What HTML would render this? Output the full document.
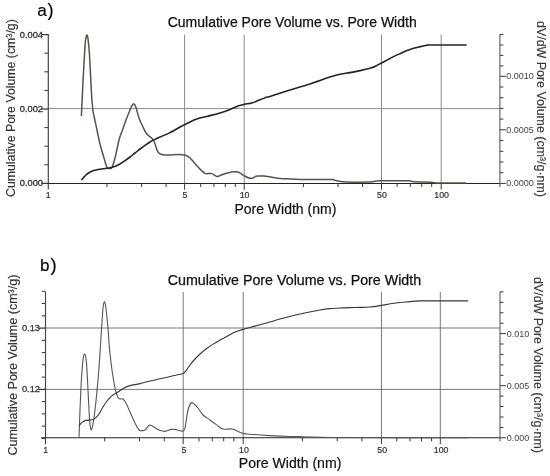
<!DOCTYPE html>
<html><head><meta charset="utf-8"><title>Cumulative Pore Volume vs. Pore Width</title>
<style>
html,body{margin:0;padding:0;background:#fff;}
body{width:550px;height:476px;overflow:hidden;font-family:"Liberation Sans",sans-serif;}
svg{display:block;will-change:transform;opacity:0.999;}
svg text{font-family:"Liberation Sans",sans-serif;}
</style></head><body>
<svg width="550" height="476" viewBox="0 0 550 476">
<rect width="550" height="476" fill="#ffffff"/>
<!-- chart a -->
<text x="37.2" y="16" font-size="17.2" fill="#000" stroke="#000" stroke-width="0.15">a</text><text x="47.6" y="16.1" font-size="18.3" fill="#000" stroke="#000" stroke-width="0.15">)</text>
<text x="167.7" y="26.7" font-size="14" fill="#111" stroke="#111" stroke-width="0.25">Cumulative Pore Volume vs. Pore Width</text>
<text x="234.4" y="214" font-size="14" fill="#111" stroke="#111" stroke-width="0.2">Pore Width (nm)</text>
<text transform="translate(15.0,197.0) rotate(-90)" font-size="12" fill="#333" stroke="#333" stroke-width="0.15" textLength="177.8" lengthAdjust="spacingAndGlyphs">Cumulative Pore Volume (cm³/g)</text>
<text transform="translate(537,21) rotate(90)" font-size="12" fill="#3a3a3a" stroke="#3a3a3a" stroke-width="0.15" textLength="176" lengthAdjust="spacingAndGlyphs">dV/dW Pore Volume (cm³/g·nm)</text>
<line x1="184.60" y1="34.6" x2="184.60" y2="183.4" stroke="#7c7c7c" stroke-width="0.9"/>
<line x1="244.20" y1="34.6" x2="244.20" y2="183.4" stroke="#7c7c7c" stroke-width="0.9"/>
<line x1="381.50" y1="34.6" x2="381.50" y2="183.4" stroke="#7c7c7c" stroke-width="0.9"/>
<line x1="441.20" y1="34.6" x2="441.20" y2="183.4" stroke="#7c7c7c" stroke-width="0.9"/>
<line x1="48.3" y1="108.6" x2="499.9" y2="108.6" stroke="#8c8c8c" stroke-width="1"/>
<line x1="48.3" y1="34.1" x2="48.3" y2="189.4" stroke="#4a4644" stroke-width="1.2"/>
<line x1="42.3" y1="183.4" x2="499.9" y2="183.4" stroke="#262322" stroke-width="1.05"/>
<line x1="499.9" y1="34.1" x2="499.9" y2="186.9" stroke="#625d5a" stroke-width="1.1"/>
<line x1="41.3" y1="183.4" x2="48.3" y2="183.4" stroke="#3a3634" stroke-width="1.25"/>
<line x1="44.3" y1="164.8" x2="48.3" y2="164.8" stroke="#3a3634" stroke-width="1"/>
<line x1="44.3" y1="146.2" x2="48.3" y2="146.2" stroke="#3a3634" stroke-width="1"/>
<line x1="44.3" y1="127.6" x2="48.3" y2="127.6" stroke="#3a3634" stroke-width="1"/>
<line x1="41.3" y1="109.0" x2="48.3" y2="109.0" stroke="#3a3634" stroke-width="1.25"/>
<line x1="44.3" y1="90.4" x2="48.3" y2="90.4" stroke="#3a3634" stroke-width="1"/>
<line x1="44.3" y1="71.8" x2="48.3" y2="71.8" stroke="#3a3634" stroke-width="1"/>
<line x1="44.3" y1="53.2" x2="48.3" y2="53.2" stroke="#3a3634" stroke-width="1"/>
<line x1="41.3" y1="34.6" x2="48.3" y2="34.6" stroke="#3a3634" stroke-width="1.25"/>
<line x1="499.9" y1="183.4" x2="505.9" y2="183.4" stroke="#3a3634" stroke-width="1"/>
<line x1="499.9" y1="172.7" x2="503.4" y2="172.7" stroke="#3a3634" stroke-width="1"/>
<line x1="499.9" y1="162.0" x2="503.4" y2="162.0" stroke="#3a3634" stroke-width="1"/>
<line x1="499.9" y1="151.3" x2="503.4" y2="151.3" stroke="#3a3634" stroke-width="1"/>
<line x1="499.9" y1="140.6" x2="503.4" y2="140.6" stroke="#3a3634" stroke-width="1"/>
<line x1="499.9" y1="129.8" x2="505.9" y2="129.8" stroke="#3a3634" stroke-width="1"/>
<line x1="499.9" y1="119.1" x2="503.4" y2="119.1" stroke="#3a3634" stroke-width="1"/>
<line x1="499.9" y1="108.4" x2="503.4" y2="108.4" stroke="#3a3634" stroke-width="1"/>
<line x1="499.9" y1="97.7" x2="503.4" y2="97.7" stroke="#3a3634" stroke-width="1"/>
<line x1="499.9" y1="87.0" x2="503.4" y2="87.0" stroke="#3a3634" stroke-width="1"/>
<line x1="499.9" y1="76.3" x2="505.9" y2="76.3" stroke="#3a3634" stroke-width="1"/>
<line x1="499.9" y1="65.9" x2="503.4" y2="65.9" stroke="#3a3634" stroke-width="1"/>
<line x1="499.9" y1="55.4" x2="503.4" y2="55.4" stroke="#3a3634" stroke-width="1"/>
<line x1="499.9" y1="45.0" x2="503.4" y2="45.0" stroke="#3a3634" stroke-width="1"/>
<line x1="499.9" y1="34.6" x2="503.4" y2="34.6" stroke="#3a3634" stroke-width="1"/>
<line x1="107.0" y1="183.4" x2="107.0" y2="187.0" stroke="#3a3634" stroke-width="1"/>
<line x1="141.6" y1="183.4" x2="141.6" y2="187.0" stroke="#3a3634" stroke-width="1"/>
<line x1="166.1" y1="183.4" x2="166.1" y2="187.0" stroke="#3a3634" stroke-width="1"/>
<line x1="184.6" y1="183.4" x2="184.6" y2="189.70000000000002" stroke="#3a3634" stroke-width="1"/>
<line x1="200.7" y1="183.4" x2="200.7" y2="187.0" stroke="#3a3634" stroke-width="1"/>
<line x1="213.9" y1="183.4" x2="213.9" y2="187.0" stroke="#3a3634" stroke-width="1"/>
<line x1="225.3" y1="183.4" x2="225.3" y2="187.0" stroke="#3a3634" stroke-width="1"/>
<line x1="235.3" y1="183.4" x2="235.3" y2="187.0" stroke="#3a3634" stroke-width="1"/>
<line x1="303.4" y1="183.4" x2="303.4" y2="187.0" stroke="#3a3634" stroke-width="1"/>
<line x1="338.0" y1="183.4" x2="338.0" y2="187.0" stroke="#3a3634" stroke-width="1"/>
<line x1="362.5" y1="183.4" x2="362.5" y2="187.0" stroke="#3a3634" stroke-width="1"/>
<line x1="381.5" y1="183.4" x2="381.5" y2="189.70000000000002" stroke="#3a3634" stroke-width="1"/>
<line x1="397.1" y1="183.4" x2="397.1" y2="187.0" stroke="#3a3634" stroke-width="1"/>
<line x1="410.3" y1="183.4" x2="410.3" y2="187.0" stroke="#3a3634" stroke-width="1"/>
<line x1="421.7" y1="183.4" x2="421.7" y2="187.0" stroke="#3a3634" stroke-width="1"/>
<line x1="431.7" y1="183.4" x2="431.7" y2="187.0" stroke="#3a3634" stroke-width="1"/>
<line x1="244.2" y1="183.4" x2="244.2" y2="189.70000000000002" stroke="#3a3634" stroke-width="1"/>
<line x1="441.2" y1="183.4" x2="441.2" y2="189.70000000000002" stroke="#3a3634" stroke-width="1"/>
<text x="48.1" y="198" font-size="8.8" text-anchor="middle" fill="#303030" stroke="#303030" stroke-width="0.2">1</text>
<text x="185.0" y="198" font-size="8.8" text-anchor="middle" fill="#303030" stroke="#303030" stroke-width="0.2">5</text>
<text x="244.6" y="198" font-size="8.8" text-anchor="middle" fill="#303030" stroke="#303030" stroke-width="0.2">10</text>
<text x="381.9" y="198" font-size="8.8" text-anchor="middle" fill="#303030" stroke="#303030" stroke-width="0.2">50</text>
<text x="441.6" y="198" font-size="8.8" text-anchor="middle" fill="#303030" stroke="#303030" stroke-width="0.2">100</text>
<text x="43.0" y="37.7" font-size="9.3" text-anchor="end" fill="#303030" stroke="#303030" stroke-width="0.3">0.004</text>
<text x="43.0" y="111.7" font-size="9.3" text-anchor="end" fill="#303030" stroke="#303030" stroke-width="0.3">0.002</text>
<text x="43.0" y="186.1" font-size="9.3" text-anchor="end" fill="#303030" stroke="#303030" stroke-width="0.3">0.000</text>
<text x="506.2" y="79.4" font-size="9" fill="#454545">0.0010</text>
<text x="506.2" y="133.0" font-size="9" fill="#454545">0.0005</text>
<text x="506.2" y="186.3" font-size="9" fill="#454545">0.0000</text>
<path d="M81.4,116.0C81.7,110.3 82.4,93.7 83.0,82.0C83.6,70.3 84.5,53.3 85.0,46.0C85.5,38.7 85.6,40.0 85.9,38.2C86.2,36.4 86.6,35.0 86.9,35.0C87.2,35.0 87.5,34.9 87.9,38.2C88.3,41.5 88.9,45.5 89.5,55.0C90.1,64.5 91.0,85.7 91.6,95.0C92.2,104.3 92.6,107.5 93.0,111.0C93.4,114.5 93.3,112.8 94.0,116.0C94.7,119.2 96.0,125.3 97.0,130.0C98.0,134.7 98.8,139.3 100.0,144.0C101.2,148.7 102.8,154.1 104.0,158.0C105.2,161.9 106.1,165.8 107.0,167.5C107.9,169.2 108.7,168.5 109.5,168.5C110.3,168.5 111.1,169.2 112.0,167.5C112.9,165.8 113.8,162.6 115.0,158.0C116.2,153.4 117.8,144.7 119.0,140.0C120.2,135.3 121.3,133.3 122.5,130.0C123.7,126.7 124.8,123.1 126.0,120.0C127.2,116.9 128.5,113.7 129.5,111.3C130.5,108.9 131.2,106.8 132.0,105.6C132.8,104.4 133.3,103.6 134.0,103.9C134.7,104.2 135.2,105.2 136.0,107.5C136.8,109.8 137.9,114.9 139.0,118.0C140.1,121.1 141.3,123.5 142.5,126.0C143.7,128.5 144.9,131.3 146.0,133.0C147.1,134.7 148.2,135.2 149.0,136.0C149.8,136.8 150.2,136.7 151.0,137.5C151.8,138.3 153.0,138.9 154.0,141.0C155.0,143.1 156.2,148.0 157.0,150.0C157.8,152.0 158.3,152.3 159.0,153.0C159.7,153.7 160.0,154.0 161.0,154.3C162.0,154.6 163.5,154.9 165.0,155.0C166.5,155.1 167.8,155.1 170.0,155.0C172.2,154.9 175.5,154.4 178.0,154.4C180.5,154.4 183.0,154.4 185.0,155.0C187.0,155.6 188.5,156.8 190.0,158.0C191.5,159.2 192.7,161.0 194.0,162.5C195.3,164.0 196.7,165.6 198.0,167.0C199.3,168.4 200.8,169.9 202.0,171.0C203.2,172.1 204.0,173.0 205.0,173.4C206.0,173.8 206.8,173.6 208.0,173.6C209.2,173.6 210.5,173.1 212.0,173.6C213.5,174.1 215.7,176.1 217.0,176.4C218.3,176.7 218.8,176.0 220.0,175.6C221.2,175.2 222.0,174.6 224.0,174.0C226.0,173.4 229.7,172.3 232.0,172.0C234.3,171.7 236.5,171.7 238.0,172.0C239.5,172.3 240.0,173.0 241.0,173.6C242.0,174.2 242.7,174.9 244.0,175.6C245.3,176.3 247.5,177.6 249.0,178.0C250.5,178.4 251.8,178.3 253.0,178.0C254.2,177.7 255.0,176.5 256.0,176.2C257.0,175.9 257.7,176.0 259.0,176.0C260.3,176.0 261.8,175.8 264.0,176.0C266.2,176.2 269.3,176.8 272.0,177.2C274.7,177.6 277.0,178.1 280.0,178.4C283.0,178.7 286.7,178.8 290.0,179.0C293.3,179.2 293.3,179.3 300.0,179.4C306.7,179.5 324.3,179.3 330.0,179.4C335.7,179.5 332.7,179.7 334.0,180.0C335.3,180.3 336.0,180.7 338.0,181.0C340.0,181.3 340.7,181.8 346.0,182.0C351.3,182.2 365.2,182.1 370.0,182.0C374.8,181.9 373.3,181.5 375.0,181.3C376.7,181.1 374.5,180.9 380.0,180.8C385.5,180.7 402.7,180.7 408.0,180.8C413.3,180.9 410.0,181.4 412.0,181.6C414.0,181.8 416.7,181.9 420.0,182.0C423.3,182.1 429.2,182.1 432.0,182.3C434.8,182.5 431.3,182.9 437.0,183.0C442.7,183.1 461.2,183.0 466.0,183.0" fill="none" stroke="#5b514a" stroke-width="1.5" stroke-linejoin="round"/>
<path d="M81.4,180.0C81.8,179.6 82.7,178.4 83.5,177.6C84.3,176.8 85.1,175.8 86.0,175.0C86.9,174.2 88.0,173.4 89.0,172.8C90.0,172.2 90.8,171.7 92.0,171.2C93.2,170.7 94.7,170.3 96.0,170.0C97.3,169.7 98.2,169.5 100.0,169.2C101.8,168.9 105.3,168.4 107.0,168.2C108.7,168.0 109.0,168.0 110.0,167.8C111.0,167.6 112.0,167.3 113.0,167.0C114.0,166.7 114.8,166.5 116.0,166.0C117.2,165.5 118.5,164.9 120.0,164.0C121.5,163.1 123.3,161.9 125.0,160.7C126.7,159.5 128.3,158.3 130.0,157.0C131.7,155.7 133.3,154.3 135.0,153.0C136.7,151.7 138.3,150.3 140.0,149.0C141.7,147.7 143.3,146.5 145.0,145.3C146.7,144.1 148.3,143.0 150.0,142.0C151.7,141.0 153.3,140.2 155.0,139.4C156.7,138.6 157.5,138.1 160.0,137.0C162.5,135.9 166.7,134.3 170.0,132.6C173.3,130.9 177.7,128.3 180.0,127.0C182.3,125.7 182.3,125.8 184.0,125.0C185.7,124.2 188.0,123.0 190.0,122.0C192.0,121.0 193.8,120.1 196.0,119.3C198.2,118.5 200.7,117.8 203.0,117.2C205.3,116.6 207.2,116.3 210.0,115.6C212.8,114.9 216.7,114.0 220.0,113.0C223.3,112.0 227.0,110.6 230.0,109.4C233.0,108.2 235.7,106.8 238.0,106.0C240.3,105.2 241.7,104.9 244.0,104.4C246.3,103.9 249.7,103.6 252.0,103.0C254.3,102.4 256.0,101.4 258.0,100.6C260.0,99.8 262.0,98.9 264.0,98.2C266.0,97.5 267.3,97.2 270.0,96.4C272.7,95.6 276.7,94.3 280.0,93.2C283.3,92.1 286.7,91.0 290.0,90.0C293.3,89.0 296.7,88.0 300.0,87.0C303.3,86.0 306.7,85.1 310.0,84.0C313.3,82.9 317.0,81.7 320.0,80.6C323.0,79.5 325.3,78.5 328.0,77.6C330.7,76.7 333.5,75.8 336.0,75.2C338.5,74.6 340.7,74.1 343.0,73.7C345.3,73.3 347.2,73.1 350.0,72.6C352.8,72.1 356.7,71.3 360.0,70.6C363.3,69.9 367.3,69.0 370.0,68.2C372.7,67.4 374.1,66.9 376.0,66.0C377.9,65.1 379.4,64.1 381.4,63.0C383.4,61.9 385.9,60.7 388.0,59.6C390.1,58.5 391.8,57.5 394.0,56.4C396.2,55.3 398.8,54.2 401.0,53.2C403.2,52.2 405.2,51.1 407.0,50.4C408.8,49.7 410.0,49.3 411.5,48.9C413.0,48.5 414.3,48.1 416.0,47.7C417.7,47.3 419.7,46.8 421.5,46.4C423.3,46.0 425.4,45.4 427.0,45.2C428.6,45.0 424.4,45.0 431.0,45.0C437.6,45.0 460.7,45.0 466.6,45.0" fill="none" stroke="#262321" stroke-width="1.6" stroke-linejoin="round"/>
<!-- chart b -->
<text x="39.9" y="270.8" font-size="17.1" fill="#000" stroke="#000" stroke-width="0.15">b</text><text x="50.5" y="270.9" font-size="18.6" fill="#000" stroke="#000" stroke-width="0.15">)</text>
<text x="167.7" y="284.7" font-size="14.25" fill="#111" stroke="#111" stroke-width="0.25">Cumulative Pore Volume vs. Pore Width</text>
<text x="238.8" y="468.3" font-size="14.1" fill="#111" stroke="#111" stroke-width="0.2">Pore Width (nm)</text>
<text transform="translate(17.1,455.6) rotate(-90)" font-size="12.4" fill="#333" stroke="#333" stroke-width="0.15" textLength="181" lengthAdjust="spacingAndGlyphs">Cumulative Pore Volume (cm³/g)</text>
<text transform="translate(534,277) rotate(90)" font-size="12" fill="#3a3a3a" stroke="#3a3a3a" stroke-width="0.15" textLength="176" lengthAdjust="spacingAndGlyphs">dV/dW Pore Volume (cm³/g·nm)</text>
<line x1="183.20" y1="292.0" x2="183.20" y2="437.8" stroke="#686868" stroke-width="0.9"/>
<line x1="243.20" y1="292.0" x2="243.20" y2="437.8" stroke="#686868" stroke-width="0.9"/>
<line x1="381.45" y1="292.0" x2="381.45" y2="437.8" stroke="#686868" stroke-width="0.9"/>
<line x1="440.30" y1="292.0" x2="440.30" y2="437.8" stroke="#686868" stroke-width="0.9"/>
<line x1="45.5" y1="328.0" x2="500.0" y2="328.0" stroke="#686868" stroke-width="0.9"/>
<line x1="45.5" y1="389.4" x2="500.0" y2="389.4" stroke="#686868" stroke-width="0.9"/>
<line x1="45.5" y1="291.5" x2="45.5" y2="444.3" stroke="#4a4644" stroke-width="1.2"/>
<line x1="41.0" y1="437.8" x2="500.0" y2="437.8" stroke="#262322" stroke-width="1.1"/>
<line x1="500.0" y1="291.5" x2="500.0" y2="441.3" stroke="#625d5a" stroke-width="1.1"/>
<line x1="41.8" y1="438.4" x2="45.5" y2="438.4" stroke="#3a3634" stroke-width="1"/>
<line x1="41.8" y1="426.1" x2="45.5" y2="426.1" stroke="#3a3634" stroke-width="1"/>
<line x1="41.8" y1="413.9" x2="45.5" y2="413.9" stroke="#3a3634" stroke-width="1"/>
<line x1="41.8" y1="401.6" x2="45.5" y2="401.6" stroke="#3a3634" stroke-width="1"/>
<line x1="38.5" y1="389.4" x2="45.5" y2="389.4" stroke="#3a3634" stroke-width="1.25"/>
<line x1="41.8" y1="377.1" x2="45.5" y2="377.1" stroke="#3a3634" stroke-width="1"/>
<line x1="41.8" y1="364.8" x2="45.5" y2="364.8" stroke="#3a3634" stroke-width="1"/>
<line x1="41.8" y1="352.6" x2="45.5" y2="352.6" stroke="#3a3634" stroke-width="1"/>
<line x1="41.8" y1="340.3" x2="45.5" y2="340.3" stroke="#3a3634" stroke-width="1"/>
<line x1="38.5" y1="328.1" x2="45.5" y2="328.1" stroke="#3a3634" stroke-width="1.25"/>
<line x1="41.8" y1="315.8" x2="45.5" y2="315.8" stroke="#3a3634" stroke-width="1"/>
<line x1="41.8" y1="303.5" x2="45.5" y2="303.5" stroke="#3a3634" stroke-width="1"/>
<line x1="41.8" y1="291.3" x2="45.5" y2="291.3" stroke="#3a3634" stroke-width="1"/>
<line x1="500.0" y1="437.8" x2="506.0" y2="437.8" stroke="#3a3634" stroke-width="1"/>
<line x1="500.0" y1="427.4" x2="503.5" y2="427.4" stroke="#3a3634" stroke-width="1"/>
<line x1="500.0" y1="417.0" x2="503.5" y2="417.0" stroke="#3a3634" stroke-width="1"/>
<line x1="500.0" y1="406.5" x2="503.5" y2="406.5" stroke="#3a3634" stroke-width="1"/>
<line x1="500.0" y1="396.1" x2="503.5" y2="396.1" stroke="#3a3634" stroke-width="1"/>
<line x1="500.0" y1="385.7" x2="506.0" y2="385.7" stroke="#3a3634" stroke-width="1"/>
<line x1="500.0" y1="375.3" x2="503.5" y2="375.3" stroke="#3a3634" stroke-width="1"/>
<line x1="500.0" y1="364.9" x2="503.5" y2="364.9" stroke="#3a3634" stroke-width="1"/>
<line x1="500.0" y1="354.4" x2="503.5" y2="354.4" stroke="#3a3634" stroke-width="1"/>
<line x1="500.0" y1="344.0" x2="503.5" y2="344.0" stroke="#3a3634" stroke-width="1"/>
<line x1="500.0" y1="333.6" x2="506.0" y2="333.6" stroke="#3a3634" stroke-width="1"/>
<line x1="500.0" y1="323.2" x2="503.5" y2="323.2" stroke="#3a3634" stroke-width="1"/>
<line x1="500.0" y1="312.8" x2="503.5" y2="312.8" stroke="#3a3634" stroke-width="1"/>
<line x1="500.0" y1="302.3" x2="503.5" y2="302.3" stroke="#3a3634" stroke-width="1"/>
<line x1="500.0" y1="291.9" x2="503.5" y2="291.9" stroke="#3a3634" stroke-width="1"/>
<line x1="104.7" y1="437.8" x2="104.7" y2="441.40000000000003" stroke="#3a3634" stroke-width="1"/>
<line x1="139.5" y1="437.8" x2="139.5" y2="441.40000000000003" stroke="#3a3634" stroke-width="1"/>
<line x1="164.2" y1="437.8" x2="164.2" y2="441.40000000000003" stroke="#3a3634" stroke-width="1"/>
<line x1="183.2" y1="437.8" x2="183.2" y2="444.1" stroke="#3a3634" stroke-width="1"/>
<line x1="199.0" y1="437.8" x2="199.0" y2="441.40000000000003" stroke="#3a3634" stroke-width="1"/>
<line x1="212.2" y1="437.8" x2="212.2" y2="441.40000000000003" stroke="#3a3634" stroke-width="1"/>
<line x1="223.7" y1="437.8" x2="223.7" y2="441.40000000000003" stroke="#3a3634" stroke-width="1"/>
<line x1="233.8" y1="437.8" x2="233.8" y2="441.40000000000003" stroke="#3a3634" stroke-width="1"/>
<line x1="302.4" y1="437.8" x2="302.4" y2="441.40000000000003" stroke="#3a3634" stroke-width="1"/>
<line x1="337.2" y1="437.8" x2="337.2" y2="441.40000000000003" stroke="#3a3634" stroke-width="1"/>
<line x1="361.9" y1="437.8" x2="361.9" y2="441.40000000000003" stroke="#3a3634" stroke-width="1"/>
<line x1="381.4" y1="437.8" x2="381.4" y2="444.1" stroke="#3a3634" stroke-width="1"/>
<line x1="396.8" y1="437.8" x2="396.8" y2="441.40000000000003" stroke="#3a3634" stroke-width="1"/>
<line x1="410.0" y1="437.8" x2="410.0" y2="441.40000000000003" stroke="#3a3634" stroke-width="1"/>
<line x1="421.5" y1="437.8" x2="421.5" y2="441.40000000000003" stroke="#3a3634" stroke-width="1"/>
<line x1="431.6" y1="437.8" x2="431.6" y2="441.40000000000003" stroke="#3a3634" stroke-width="1"/>
<line x1="243.2" y1="437.8" x2="243.2" y2="444.1" stroke="#3a3634" stroke-width="1"/>
<line x1="440.3" y1="437.8" x2="440.3" y2="444.1" stroke="#3a3634" stroke-width="1"/>
<text x="45.7" y="453.0" font-size="8.8" text-anchor="middle" fill="#303030" stroke="#303030" stroke-width="0.2">1</text>
<text x="184.0" y="453.0" font-size="8.8" text-anchor="middle" fill="#303030" stroke="#303030" stroke-width="0.2">5</text>
<text x="244.0" y="453.0" font-size="8.8" text-anchor="middle" fill="#303030" stroke="#303030" stroke-width="0.2">10</text>
<text x="382.2" y="453.0" font-size="8.8" text-anchor="middle" fill="#303030" stroke="#303030" stroke-width="0.2">50</text>
<text x="441.1" y="453.0" font-size="8.8" text-anchor="middle" fill="#303030" stroke="#303030" stroke-width="0.2">100</text>
<text x="40.0" y="331.1" font-size="9.3" text-anchor="end" fill="#303030" stroke="#303030" stroke-width="0.25">0.13</text>
<text x="40.0" y="392.3" font-size="9.3" text-anchor="end" fill="#303030" stroke="#303030" stroke-width="0.25">0.12</text>
<text x="506.8" y="336.8" font-size="9" fill="#454545">0.010</text>
<text x="506.8" y="388.9" font-size="9" fill="#454545">0.005</text>
<text x="506.8" y="441.0" font-size="9" fill="#454545">0.000</text>
<path d="M79.0,438.0C79.2,433.3 79.6,419.7 80.0,410.0C80.4,400.3 80.9,388.3 81.4,380.0C81.9,371.7 82.5,364.3 83.0,360.0C83.5,355.7 84.0,353.7 84.6,354.0C85.2,354.3 85.8,356.0 86.4,362.0C87.0,368.0 87.5,380.3 88.0,390.0C88.5,399.7 89.1,413.4 89.6,420.0C90.1,426.6 90.5,428.6 91.0,429.6C91.5,430.6 91.9,429.3 92.6,426.0C93.3,422.7 94.1,417.7 95.0,410.0C95.9,402.3 97.1,390.0 98.0,380.0C98.9,370.0 99.6,358.7 100.2,350.0C100.8,341.3 101.2,334.6 101.6,328.0C102.0,321.4 102.5,314.5 102.8,310.5C103.1,306.5 103.3,305.5 103.6,304.0C103.9,302.5 104.1,301.6 104.4,301.6C104.7,301.6 105.0,302.5 105.3,304.0C105.6,305.5 105.8,306.5 106.2,310.5C106.7,314.5 107.4,321.4 108.0,328.0C108.6,334.6 108.9,343.0 109.6,350.0C110.3,357.0 111.1,363.7 112.0,370.0C112.9,376.3 114.0,383.4 115.0,388.0C116.0,392.6 117.1,395.7 118.0,397.5C118.9,399.3 119.7,398.8 120.5,399.0C121.3,399.2 122.1,398.3 123.0,399.0C123.9,399.7 124.8,400.8 126.0,403.0C127.2,405.2 128.5,408.7 130.0,412.0C131.5,415.3 133.5,420.0 135.0,423.0C136.5,426.0 137.8,428.7 139.0,430.0C140.2,431.3 141.0,430.6 142.0,430.6C143.0,430.6 144.0,430.7 145.0,430.0C146.0,429.3 147.2,427.3 148.0,426.5C148.8,425.7 149.2,425.0 150.0,425.0C150.8,425.0 151.5,425.6 153.0,426.4C154.5,427.2 157.0,429.2 159.0,430.0C161.0,430.8 163.0,431.5 165.0,431.4C167.0,431.3 169.3,429.7 171.0,429.4C172.7,429.1 173.7,429.2 175.0,429.4C176.3,429.6 177.7,430.3 179.0,430.6C180.3,430.9 182.0,431.4 183.0,431.0C184.0,430.6 184.2,431.5 185.0,428.0C185.8,424.5 187.0,414.2 188.0,410.0C189.0,405.8 190.0,404.0 191.0,403.0C192.0,402.0 192.8,403.2 194.0,404.0C195.2,404.8 196.5,406.2 198.0,408.0C199.5,409.8 201.0,413.0 203.0,415.0C205.0,417.0 207.8,418.4 210.0,420.0C212.2,421.6 213.8,422.9 216.0,424.4C218.2,425.9 220.3,428.2 223.0,429.0C225.7,429.8 229.5,428.6 232.0,429.0C234.5,429.4 236.2,430.7 238.0,431.4C239.8,432.1 241.0,432.9 243.0,433.4C245.0,433.9 245.5,433.8 250.0,434.2C254.5,434.6 263.3,435.2 270.0,435.6C276.7,436.0 283.3,436.3 290.0,436.5C296.7,436.7 302.5,436.8 310.0,437.0C317.5,437.2 308.7,437.4 335.0,437.5C361.3,437.6 445.8,437.6 468.0,437.6" fill="none" stroke="#5a5552" stroke-width="1.12" stroke-linejoin="round"/>
<path d="M79.0,426.0C79.5,425.4 80.8,423.3 82.0,422.4C83.2,421.5 84.5,420.8 86.0,420.4C87.5,420.0 89.5,420.3 91.0,420.0C92.5,419.7 93.7,419.4 95.0,418.4C96.3,417.4 97.7,415.9 99.0,414.0C100.3,412.1 101.7,409.2 103.0,407.0C104.3,404.8 105.5,402.9 107.0,401.0C108.5,399.1 110.2,397.1 112.0,395.6C113.8,394.1 116.0,393.3 118.0,392.0C120.0,390.7 122.0,389.1 124.0,388.0C126.0,386.9 127.3,386.3 130.0,385.6C132.7,384.9 136.7,384.4 140.0,383.6C143.3,382.8 146.7,381.8 150.0,381.0C153.3,380.2 156.3,379.6 160.0,378.8C163.7,378.0 168.7,376.8 172.0,376.0C175.3,375.2 178.2,374.7 180.0,374.3C181.8,373.9 182.2,374.0 183.0,373.6C183.8,373.2 184.2,372.8 185.0,372.0C185.8,371.2 186.7,369.8 187.5,368.6C188.3,367.4 188.8,366.6 190.0,365.0C191.2,363.4 193.3,360.8 195.0,359.0C196.7,357.2 198.2,355.7 200.0,354.0C201.8,352.3 203.7,350.7 206.0,349.0C208.3,347.3 211.0,345.4 214.0,343.6C217.0,341.8 220.7,339.8 224.0,338.0C227.3,336.2 230.8,334.0 234.0,332.6C237.2,331.2 239.7,330.4 243.0,329.4C246.3,328.4 249.5,327.6 254.0,326.4C258.5,325.2 265.7,323.2 270.0,322.0C274.3,320.8 275.0,320.3 280.0,319.0C285.0,317.7 293.3,315.5 300.0,314.0C306.7,312.5 315.0,310.9 320.0,310.0C325.0,309.1 326.7,308.9 330.0,308.6C333.3,308.3 336.7,308.2 340.0,308.0C343.3,307.8 346.7,307.7 350.0,307.6C353.3,307.5 356.7,307.5 360.0,307.4C363.3,307.3 366.4,307.3 370.0,307.0C373.6,306.7 377.1,306.1 381.4,305.4C385.7,304.7 391.2,303.6 396.0,303.0C400.8,302.4 406.0,302.0 410.0,301.6C414.0,301.2 416.7,301.0 420.0,300.9C423.3,300.8 422.0,300.9 430.0,300.9C438.0,300.9 461.7,300.9 468.0,300.9" fill="none" stroke="#3a3634" stroke-width="1.1" stroke-linejoin="round"/>
</svg>
</body></html>
